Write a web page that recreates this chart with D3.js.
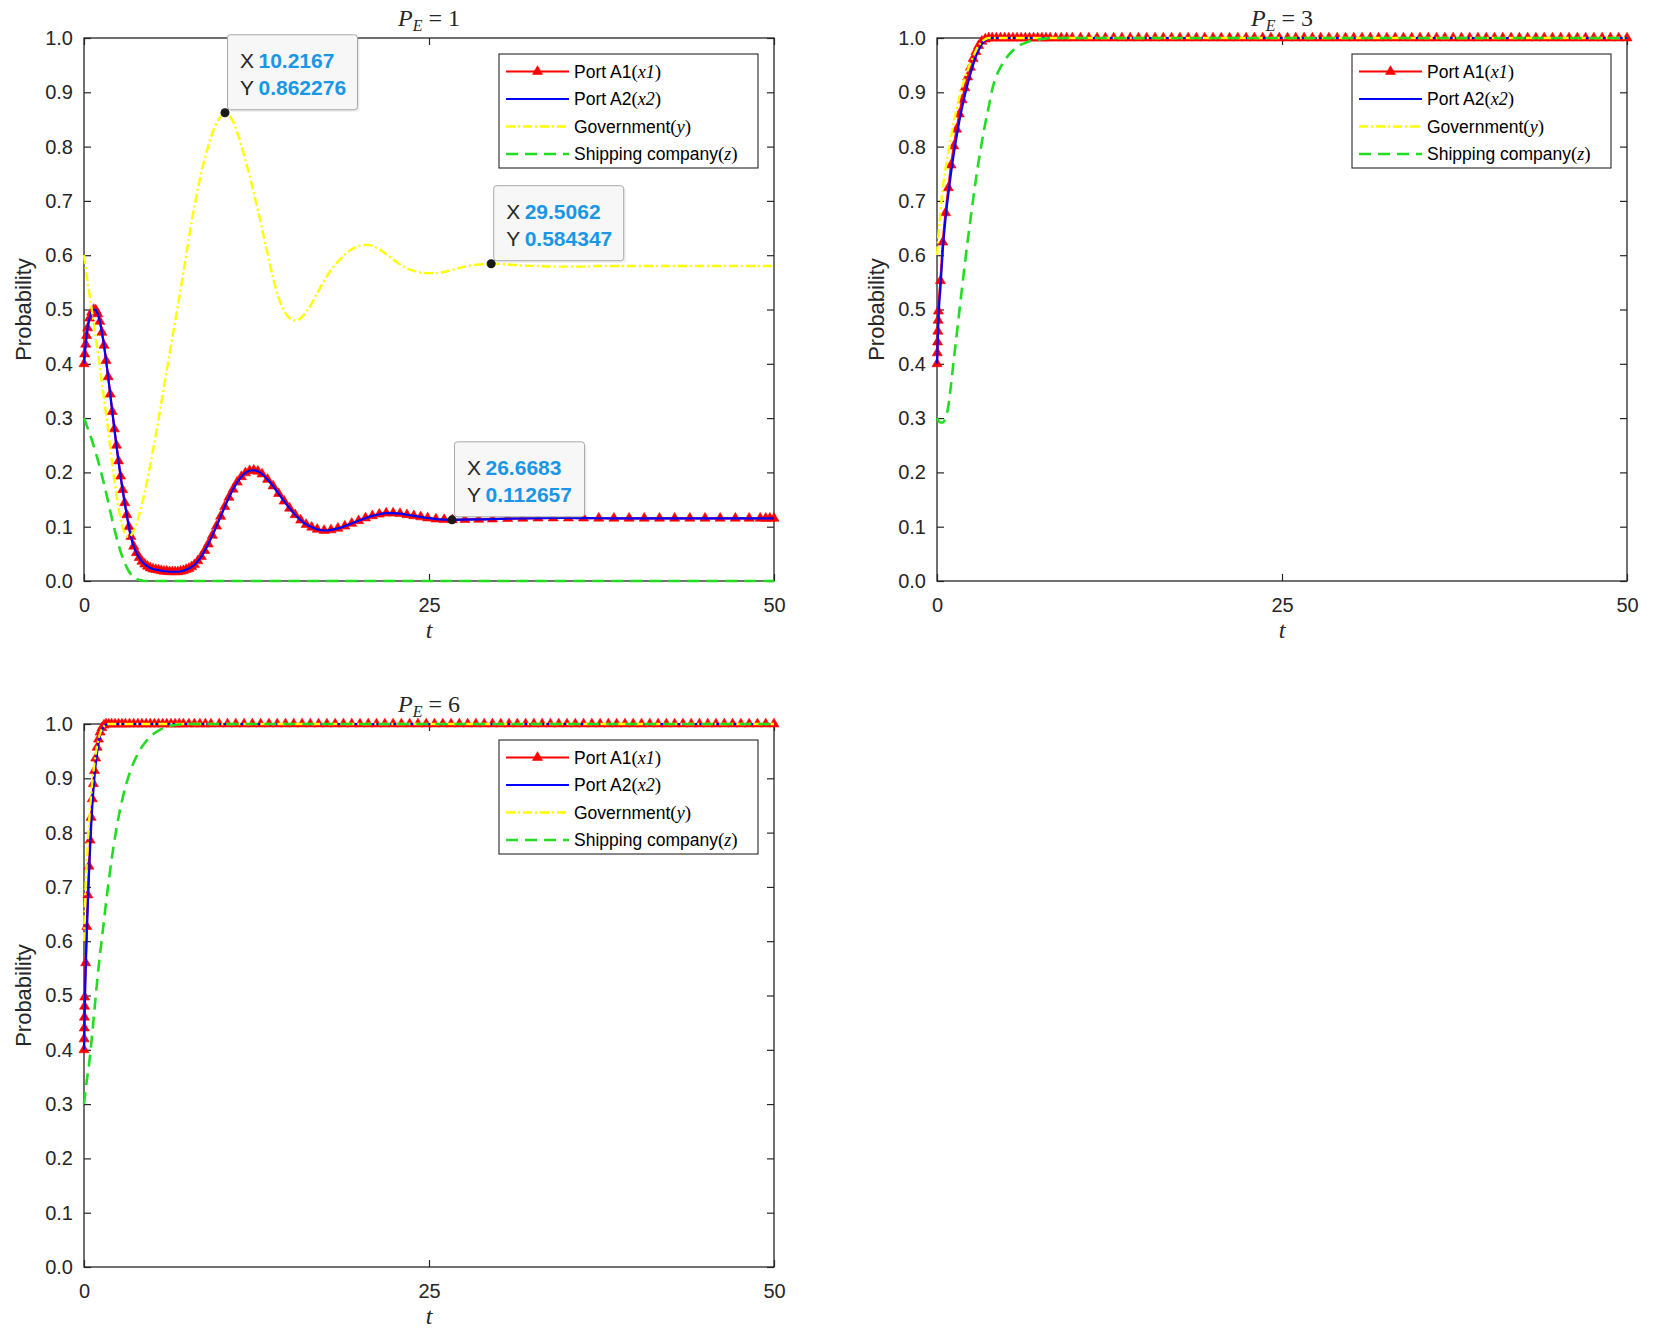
<!DOCTYPE html>
<html lang="en">
<head>
<meta charset="UTF-8">
<title>Evolution paths under different P_E</title>
<script src="https://d3js.org/d3.v7.min.js"></script>
<style>
  body { margin: 0; background: #fff; }
  svg text { font-family: "Liberation Sans", Arial, Helvetica, sans-serif; }
</style>
</head>
<body>
<div id="chart"></div>
<script>
// ---------- data ----------
const xTicks = [0, 25, 50];
const yTicks = [0, 0.1, 0.2, 0.3, 0.4, 0.5, 0.6, 0.7, 0.8, 0.9, 1.0];
const panelValues = ["1", "3", "6"];
const legendNames = ["Port A1", "Port A2", "Government", "Shipping company"];
const legendSymbols = ["x1", "x2", "y", "z"];

// P_E = 1
const tP1 = [
  0, 0.05, 0.12, 0.19, 0.26, 0.4, 0.55, 0.7, 0.85, 1.0,
  1.15, 1.3, 1.45, 1.6, 1.75, 1.9, 2.05, 2.2, 2.35, 2.5,
  2.65, 2.8, 2.95, 3.1, 3.25, 3.4, 3.6, 3.8, 4.0, 4.2,
  4.4, 4.6, 4.8, 5.0, 5.2, 5.4, 5.6, 5.8, 6.0, 6.2,
  6.4, 6.6, 6.8, 7.0, 7.2, 7.4, 7.6, 7.8, 8.0, 8.25,
  8.5, 8.75, 9.0, 9.3, 9.6, 9.9, 10.2, 10.5, 10.8, 11.1,
  11.4, 11.7, 12.0, 12.3, 12.6, 12.9, 13.3, 13.7, 14.1, 14.5,
  14.9, 15.3, 15.7, 16.1, 16.5, 16.9, 17.4, 17.9, 18.4, 18.9,
  19.4, 19.9, 20.4, 20.9, 21.4, 21.9, 22.4, 22.9, 23.4, 23.9,
  24.4, 24.9, 25.5, 26.1, 26.7, 27.6, 28.6, 29.6, 30.7, 31.8,
  32.9, 34.0, 35.1, 36.2, 37.3, 38.4, 39.5, 40.6, 41.7, 42.8,
  43.9, 45.0, 46.1, 47.2, 48.2, 49.0, 49.4, 49.7, 50
];
const x1P1 = [
  0.400, 0.418, 0.436, 0.452, 0.466, 0.484, 0.495, 0.500, 0.499, 0.492,
  0.478, 0.458, 0.434, 0.406, 0.376, 0.344, 0.312, 0.280, 0.250, 0.221,
  0.193, 0.168, 0.144, 0.122, 0.100, 0.082, 0.064, 0.052, 0.043, 0.036,
  0.031, 0.027, 0.024, 0.022, 0.021, 0.020, 0.019, 0.018, 0.018, 0.017,
  0.017, 0.017, 0.017, 0.018, 0.019, 0.021, 0.023, 0.026, 0.030, 0.037,
  0.045, 0.056, 0.068, 0.084, 0.101, 0.119, 0.137, 0.154, 0.169, 0.182,
  0.192, 0.199, 0.203, 0.204, 0.202, 0.197, 0.187, 0.175, 0.161, 0.147,
  0.134, 0.122, 0.112, 0.104, 0.099, 0.095, 0.093, 0.094, 0.097, 0.101,
  0.106, 0.111, 0.116, 0.120, 0.123, 0.125, 0.125, 0.124, 0.122, 0.120,
  0.118, 0.116, 0.114, 0.113, 0.1127, 0.113, 0.1135, 0.114, 0.115, 0.1155,
  0.1158, 0.116, 0.116, 0.1158, 0.1156, 0.1155, 0.1155, 0.1155, 0.1155, 0.1155,
  0.1155, 0.1155, 0.1155, 0.1155, 0.1155, 0.1155, 0.1155, 0.1155, 0.1155
];
const x2P1 = [
  0.400, 0.418, 0.436, 0.452, 0.466, 0.484, 0.495, 0.500, 0.499, 0.492,
  0.478, 0.458, 0.434, 0.406, 0.376, 0.344, 0.312, 0.280, 0.250, 0.221,
  0.193, 0.168, 0.144, 0.122, 0.100, 0.082, 0.064, 0.052, 0.043, 0.036,
  0.031, 0.027, 0.024, 0.022, 0.021, 0.020, 0.019, 0.018, 0.018, 0.017,
  0.017, 0.017, 0.017, 0.018, 0.019, 0.021, 0.023, 0.026, 0.030, 0.037,
  0.045, 0.056, 0.068, 0.084, 0.101, 0.119, 0.137, 0.154, 0.169, 0.182,
  0.192, 0.199, 0.203, 0.204, 0.202, 0.197, 0.187, 0.175, 0.161, 0.147,
  0.134, 0.122, 0.112, 0.104, 0.099, 0.095, 0.093, 0.094, 0.097, 0.101,
  0.106, 0.111, 0.116, 0.120, 0.123, 0.125, 0.125, 0.124, 0.122, 0.120,
  0.118, 0.116, 0.114, 0.113, 0.1127, 0.113, 0.1135, 0.114, 0.115, 0.1155,
  0.1158, 0.116, 0.116, 0.1158, 0.1156, 0.1155, 0.1155, 0.1155, 0.1155, 0.1155,
  0.1155, 0.1155, 0.1155, 0.1155, 0.1155, 0.1155, 0.1155, 0.1155, 0.1155
];
const yP1 = [
  0.600, 0.590, 0.577, 0.564, 0.552, 0.527, 0.502, 0.477, 0.450, 0.422,
  0.393, 0.364, 0.336, 0.307, 0.278, 0.246, 0.214, 0.186, 0.160, 0.135,
  0.114, 0.099, 0.089, 0.083, 0.081, 0.084, 0.092, 0.104, 0.122, 0.142,
  0.164, 0.188, 0.214, 0.241, 0.269, 0.298, 0.328, 0.358, 0.388, 0.418,
  0.448, 0.478, 0.507, 0.537, 0.567, 0.600, 0.632, 0.662, 0.690, 0.722,
  0.752, 0.778, 0.801, 0.825, 0.843, 0.855, 0.862, 0.858, 0.846, 0.826,
  0.802, 0.775, 0.746, 0.715, 0.683, 0.649, 0.603, 0.558, 0.522, 0.498,
  0.484, 0.480, 0.484, 0.496, 0.511, 0.530, 0.553, 0.573, 0.588, 0.601,
  0.611, 0.617, 0.619, 0.617, 0.611, 0.602, 0.592, 0.583, 0.576, 0.571,
  0.568, 0.567, 0.567, 0.569, 0.573, 0.579, 0.583, 0.584, 0.583, 0.581,
  0.580, 0.579, 0.579, 0.579, 0.580, 0.580, 0.580, 0.580, 0.580, 0.580,
  0.580, 0.580, 0.580, 0.580, 0.580, 0.580, 0.580, 0.580, 0.580
];
const zP1 = [
  0.300, 0.297, 0.292, 0.287, 0.282, 0.272, 0.261, 0.249, 0.236, 0.223,
  0.209, 0.194, 0.179, 0.163, 0.146, 0.129, 0.112, 0.096, 0.081, 0.067,
  0.054, 0.043, 0.033, 0.025, 0.018, 0.012, 0.007, 0.004, 0.002, 0.001,
  0, 0, 0, 0, 0, 0, 0, 0, 0, 0,
  0, 0, 0, 0, 0, 0, 0, 0, 0, 0,
  0, 0, 0, 0, 0, 0, 0, 0, 0, 0,
  0, 0, 0, 0, 0, 0, 0, 0, 0, 0,
  0, 0, 0, 0, 0, 0, 0, 0, 0, 0,
  0, 0, 0, 0, 0, 0, 0, 0, 0, 0,
  0, 0, 0, 0, 0, 0, 0, 0, 0, 0,
  0, 0, 0, 0, 0, 0, 0, 0, 0, 0,
  0, 0, 0, 0, 0, 0, 0, 0, 0
];

// shared saturated tail (all series sit at 1.0) for P_E = 3 and P_E = 6
const satT = [
  9.8, 10.4, 11.0, 11.6, 12.2, 12.8, 13.4, 14.0, 14.6, 15.2,
  15.8, 16.4, 17.0, 17.6, 18.2, 18.8, 19.4, 20.0, 20.6, 21.2,
  21.8, 22.4, 23.0, 23.6, 24.2, 24.8, 25.4, 26.0, 26.6, 27.2,
  27.8, 28.4, 29.0, 29.6, 30.2, 30.8, 31.4, 32.0, 32.6, 33.2,
  33.8, 34.4, 35.0, 35.6, 36.2, 36.8, 37.4, 38.0, 38.6, 39.2,
  39.8, 40.4, 41.0, 41.6, 42.2, 42.8, 43.4, 44.0, 44.6, 45.2,
  45.8, 46.4, 47.0, 47.6, 48.2, 48.8, 49.4, 50
];
const satOnes = [
  1, 1, 1, 1, 1, 1, 1, 1, 1, 1,
  1, 1, 1, 1, 1, 1, 1, 1, 1, 1,
  1, 1, 1, 1, 1, 1, 1, 1, 1, 1,
  1, 1, 1, 1, 1, 1, 1, 1, 1, 1,
  1, 1, 1, 1, 1, 1, 1, 1, 1, 1,
  1, 1, 1, 1, 1, 1, 1, 1, 1, 1,
  1, 1, 1, 1, 1, 1, 1, 1
];

// P_E = 3 (start of run)
const tP2 = [
  0, 0.02, 0.04, 0.06, 0.08, 0.1, 0.25, 0.42, 0.62, 0.82,
  1.02, 1.22, 1.42, 1.62, 1.82, 2.02, 2.22, 2.42, 2.62, 2.82,
  3.02, 3.25, 3.5, 3.75, 4.0, 4.3, 4.6, 4.9, 5.2, 5.5,
  5.8, 6.1, 6.4, 6.7, 7.0, 7.3, 7.6, 7.9, 8.2, 8.6,
  9.0, 9.4
];
const x1P2 = [
  0.400, 0.420, 0.440, 0.460, 0.480, 0.497, 0.553, 0.624, 0.678, 0.724,
  0.766, 0.801, 0.832, 0.860, 0.886, 0.908, 0.928, 0.946, 0.962, 0.975,
  0.986, 0.994, 0.998, 1, 1, 1, 1, 1, 1, 1,
  1, 1, 1, 1, 1, 1, 1, 1, 1, 1,
  1, 1
];
const x2P2 = [
  0.400, 0.415, 0.430, 0.446, 0.462, 0.478, 0.540, 0.610, 0.668, 0.712,
  0.752, 0.787, 0.818, 0.847, 0.872, 0.895, 0.915, 0.934, 0.951, 0.966,
  0.978, 0.989, 0.996, 0.999, 1, 1, 1, 1, 1, 1,
  1, 1, 1, 1, 1, 1, 1, 1, 1, 1,
  1, 1
];
const yP2 = [
  0.600, 0.607, 0.614, 0.621, 0.628, 0.635, 0.680, 0.723, 0.760, 0.788,
  0.818, 0.845, 0.869, 0.890, 0.909, 0.926, 0.941, 0.954, 0.966, 0.977,
  0.986, 0.993, 0.998, 1, 1, 1, 1, 1, 1, 1,
  1, 1, 1, 1, 1, 1, 1, 1, 1, 1,
  1, 1
];
const zP2 = [
  0.300, 0.299, 0.298, 0.297, 0.296, 0.295, 0.292, 0.292, 0.300, 0.322,
  0.362, 0.408, 0.452, 0.497, 0.541, 0.584, 0.626, 0.665, 0.703, 0.740,
  0.773, 0.808, 0.843, 0.873, 0.905, 0.930, 0.946, 0.959, 0.969, 0.977,
  0.983, 0.988, 0.991, 0.994, 0.996, 0.997, 0.998, 0.999, 1, 1,
  1, 1
];

// P_E = 6 (start of run)
const tP3 = [
  0, 0.01, 0.02, 0.03, 0.04, 0.05, 0.12, 0.2, 0.28, 0.36,
  0.44, 0.52, 0.6, 0.68, 0.76, 0.85, 0.95, 1.05, 1.17, 1.3,
  1.45, 1.6, 1.8, 2.0, 2.25, 2.5, 2.75, 3.0, 3.3, 3.6,
  3.9, 4.2, 4.5, 4.8, 5.1, 5.4, 5.7, 6.0, 6.3, 6.6,
  6.9, 7.2, 7.6, 8.0, 8.4, 8.8, 9.2
];
const x1P3 = [
  0.400, 0.420, 0.440, 0.460, 0.480, 0.497, 0.560, 0.627, 0.685, 0.738,
  0.786, 0.828, 0.862, 0.890, 0.914, 0.937, 0.957, 0.972, 0.985, 0.993,
  0.998, 1, 1, 1, 1, 1, 1, 1, 1, 1,
  1, 1, 1, 1, 1, 1, 1, 1, 1, 1,
  1, 1, 1, 1, 1, 1, 1
];
const x2P3 = [
  0.400, 0.414, 0.428, 0.442, 0.456, 0.470, 0.545, 0.612, 0.670, 0.722,
  0.770, 0.812, 0.848, 0.878, 0.903, 0.927, 0.948, 0.964, 0.979, 0.989,
  0.996, 0.999, 1, 1, 1, 1, 1, 1, 1, 1,
  1, 1, 1, 1, 1, 1, 1, 1, 1, 1,
  1, 1, 1, 1, 1, 1, 1
];
const yP3 = [
  0.600, 0.612, 0.624, 0.635, 0.643, 0.650, 0.705, 0.748, 0.785, 0.817,
  0.846, 0.871, 0.893, 0.912, 0.929, 0.945, 0.960, 0.972, 0.983, 0.991,
  0.996, 0.999, 1, 1, 1, 1, 1, 1, 1, 1,
  1, 1, 1, 1, 1, 1, 1, 1, 1, 1,
  1, 1, 1, 1, 1, 1, 1
];
const zP3 = [
  0.300, 0.302, 0.304, 0.306, 0.308, 0.310, 0.325, 0.343, 0.357, 0.372,
  0.390, 0.410, 0.431, 0.452, 0.474, 0.499, 0.525, 0.551, 0.578, 0.606,
  0.638, 0.672, 0.712, 0.750, 0.792, 0.828, 0.858, 0.884, 0.909, 0.929,
  0.945, 0.958, 0.968, 0.977, 0.983, 0.988, 0.992, 0.995, 0.997, 0.998,
  0.999, 1, 1, 1, 1, 1, 1
];

// data tips shown on the P_E = 1 panel
const tipT = [10.2167, 29.5062, 26.6683];
const tipV = [0.862276, 0.584347, 0.112657];

// ---------- drawing ----------
const W = 690, H = 543;
const axisColor = "#262626";
const svg = d3.select("#chart").append("svg")
    .attr("width", 1654)
    .attr("height", 1333);

const styles = [
    { color: "#ff0000", width: 2.2, dash: null, marker: true },
    { color: "#0000ff", width: 2.2, dash: null },
    { color: "#ffff00", width: 2.4, dash: "9,3,2,3" },
    { color: "#22dd22", width: 2.6, dash: "12,7" }
];

const panels = [
    { left: 84, top: 38, series: [[tP1, x1P1], [tP1, x2P1], [tP1, yP1], [tP1, zP1]], tips: true },
    { left: 937, top: 38, series: [
        [tP2.concat(satT), x1P2.concat(satOnes)],
        [tP2.concat(satT), x2P2.concat(satOnes)],
        [tP2.concat(satT), yP2.concat(satOnes)],
        [tP2.concat(satT), zP2.concat(satOnes)] ] },
    { left: 84, top: 724, series: [
        [tP3.concat(satT), x1P3.concat(satOnes)],
        [tP3.concat(satT), x2P3.concat(satOnes)],
        [tP3.concat(satT), yP3.concat(satOnes)],
        [tP3.concat(satT), zP3.concat(satOnes)] ] }
];

function toPoints(t, v) {
    const n = Math.min(t.length, v.length);
    return d3.range(n).map(i => [t[i], v[i]]);
}

const tri = d3.symbol().type(d3.symbolTriangle).size(44);

panels.forEach((p, pi) => {
    const g = svg.append("g").attr("transform", `translate(${p.left},${p.top})`);
    const x = d3.scaleLinear().domain([0, 50]).range([0, W]);
    const y = d3.scaleLinear().domain([0, 1]).range([H, 0]);

    // axes, ticks pointing inward like MATLAB
    const yl = g.append("g").call(d3.axisLeft(y).tickValues(yTicks).tickFormat(d3.format(".1f")).tickSize(-7).tickPadding(11));
    const yr = g.append("g").attr("transform", `translate(${W},0)`)
        .call(d3.axisRight(y).tickValues(yTicks).tickFormat("").tickSize(-7));
    const xb = g.append("g").attr("transform", `translate(0,${H})`)
        .call(d3.axisBottom(x).tickValues(xTicks).tickFormat(d3.format("d")).tickSize(-7).tickPadding(17));
    const xt = g.append("g").call(d3.axisTop(x).tickValues(xTicks).tickFormat("").tickSize(-7));
    [yl, yr, xb, xt].forEach(a => {
        a.select(".domain").remove();
        a.selectAll("line").attr("stroke", axisColor).attr("stroke-width", 1.2);
        a.selectAll("text").attr("fill", axisColor).style("font-size", "20px")
            .style("font-family", "'Liberation Sans', Arial, sans-serif");
    });
    g.append("rect").attr("width", W).attr("height", H)
        .attr("fill", "none").attr("stroke", axisColor).attr("stroke-width", 1.3);

    // series
    const line = d3.line().x(d => x(d[0])).y(d => y(d[1])).curve(d3.curveMonotoneX);
    p.series.forEach((s, si) => {
        const st = styles[si];
        const pts = toPoints(s[0], s[1]);
        g.append("path").datum(pts)
            .attr("d", line)
            .attr("fill", "none")
            .attr("stroke", st.color)
            .attr("stroke-width", st.width)
            .attr("stroke-dasharray", st.dash);
        if (st.marker) {
            g.append("g").selectAll("path").data(pts).join("path")
                .attr("d", tri)
                .attr("transform", d => `translate(${x(d[0])},${y(d[1])})`)
                .attr("fill", st.color)
                .attr("stroke", st.color)
                .attr("stroke-width", 0.6);
        }
    });

    // title  P_E = value
    const title = g.append("text")
        .attr("x", W / 2).attr("y", -12)
        .attr("text-anchor", "middle")
        .attr("fill", axisColor)
        .style("font-family", "'Liberation Serif', 'Times New Roman', serif")
        .style("font-size", "24px");
    title.append("tspan").style("font-style", "italic").text("P");
    title.append("tspan").style("font-style", "italic").style("font-size", "16px").attr("dy", 5).text("E");
    title.append("tspan").attr("dy", -5).attr("dx", 6).text("=");
    title.append("tspan").attr("dx", 6).text(panelValues[pi]);

    // axis labels
    g.append("text")
        .attr("x", W / 2).attr("y", H + 57)
        .attr("text-anchor", "middle")
        .attr("fill", axisColor)
        .style("font-family", "'Liberation Serif', 'Times New Roman', serif")
        .style("font-style", "italic")
        .style("font-size", "24px")
        .text("t");
    g.append("text")
        .attr("transform", `translate(-61,${H / 2}) rotate(-90)`)
        .attr("text-anchor", "middle")
        .attr("dy", "0.35em")
        .attr("fill", axisColor)
        .style("font-size", "22px")
        .text("Probability");

    // legend
    const lw = 259, lh = 114;
    const lg = g.append("g").attr("transform", `translate(${W - 16 - lw},16)`);
    lg.append("rect").attr("width", lw).attr("height", lh)
        .attr("fill", "#fff").attr("stroke", axisColor).attr("stroke-width", 1.1);
    legendNames.forEach((name, i) => {
        const st = styles[i];
        const ry = 17.5 + i * 27.5;
        lg.append("line")
            .attr("x1", 7).attr("x2", 70).attr("y1", ry).attr("y2", ry)
            .attr("stroke", st.color).attr("stroke-width", st.width)
            .attr("stroke-dasharray", st.dash);
        if (st.marker) {
            lg.append("path").attr("d", tri)
                .attr("transform", `translate(38.5,${ry})`)
                .attr("fill", st.color).attr("stroke", st.color).attr("stroke-width", 0.6);
        }
        const tx = lg.append("text")
            .attr("x", 75).attr("y", ry).attr("dy", "0.36em")
            .attr("fill", "#000")
            .style("font-size", "17.5px");
        tx.append("tspan").text(name);
        tx.append("tspan").style("font-family", "'Liberation Serif', serif").style("font-size", "19px").text("(");
        tx.append("tspan").style("font-family", "'Liberation Serif', serif").style("font-size", "18px")
            .style("font-style", "italic").text(legendSymbols[i]);
        tx.append("tspan").style("font-family", "'Liberation Serif', serif").style("font-size", "19px").text(")");
    });

    // data tips
    if (p.tips) {
        tipT.forEach((tt, i) => {
            const dx = x(tt), dy = y(tipV[i]);
            const bx = dx + 2.5, by = dy - 3 - 75;
            const tg = g.append("g");
            tg.append("rect").attr("x", bx + 2).attr("y", by + 2).attr("width", 130).attr("height", 75)
                .attr("rx", 3).attr("fill", "#000").attr("opacity", 0.07);
            tg.append("rect").attr("x", bx).attr("y", by).attr("width", 130).attr("height", 75)
                .attr("rx", 3).attr("fill", "#f7f7f7").attr("stroke", "#a8a8a8").attr("stroke-width", 1);
            [["X", String(tt)], ["Y", String(tipV[i])]].forEach((row, r) => {
                const t = tg.append("text")
                    .attr("x", bx + 12.5).attr("y", by + 33 + r * 27)
                    .style("font-size", "21px");
                t.append("tspan").attr("fill", axisColor).text(row[0]);
                t.append("tspan").attr("x", bx + 31).attr("fill", "#1a96e6")
                    .style("font-weight", "bold").text(row[1]);
            });
            g.append("circle").attr("cx", dx).attr("cy", dy).attr("r", 4.5).attr("fill", "#1a1a1a");
        });
    }
});
</script>
</body>
</html>
